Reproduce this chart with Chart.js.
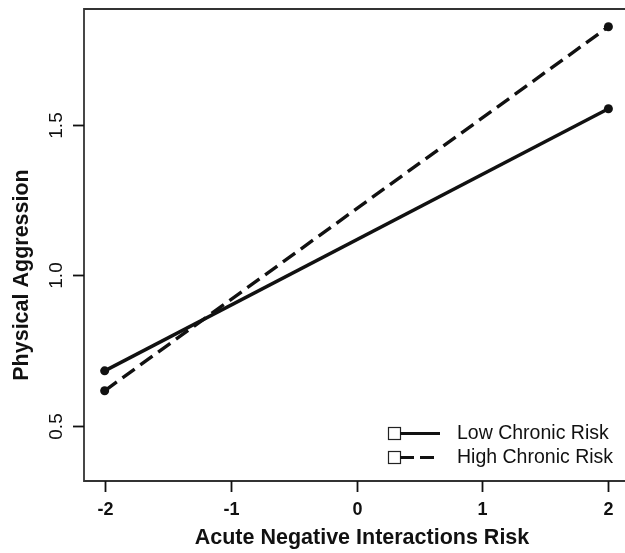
<!DOCTYPE html>
<html>
<head>
<meta charset="utf-8">
<script src="https://cdn.jsdelivr.net/npm/chart.js@4.4.0/dist/chart.umd.min.js"></script>
<style>
  html, body { margin: 0; padding: 0; background: #fff; overflow: hidden; }
  canvas { display: block; }
</style>
</head>
<body>
<canvas id="c" width="625" height="553"></canvas>
<script>
// ===== 数据 =====
const xValues   = [-2, 2];
const lowRisk   = [0.683, 1.553];
const highRisk  = [0.617, 1.825];
const xTicks    = [-2, -1, 0, 1, 2];
const yTicks    = [0.5, 1.0, 1.5];
const yTickText = ['0.5', '1.0', '1.5'];
const seriesNames = ['Low Chronic Risk', 'High Chronic Risk'];

const INK = '#111';
const FONT = '"Liberation Sans", Arial, sans-serif';

// 边框、刻度、坐标轴标题、图例（R 风格）
const rFramePlugin = {
  id: 'rFrame',
  afterDraw(chart) {
    const { ctx, chartArea, scales } = chart;
    const { left, top, bottom } = chartArea;
    const x = scales.x, y = scales.y;
    ctx.save();

    // 框线（右侧被裁掉）
    ctx.strokeStyle = '#333';
    ctx.lineWidth = 1.8;
    ctx.beginPath();
    ctx.moveTo(chart.width + 2, top);
    ctx.lineTo(left, top);
    ctx.lineTo(left, bottom);
    ctx.lineTo(chart.width + 2, bottom);
    ctx.stroke();

    // x 刻度
    ctx.strokeStyle = INK;
    ctx.lineWidth = 1.8;
    ctx.fillStyle = INK;
    ctx.font = 'bold 18px ' + FONT;
    ctx.textAlign = 'center';
    ctx.textBaseline = 'middle';
    xTicks.forEach(v => {
      const px = Math.round(x.getPixelForValue(v)) + 0.5;
      ctx.beginPath();
      ctx.moveTo(px, bottom);
      ctx.lineTo(px, bottom + 11);
      ctx.stroke();
      ctx.fillText(String(v), px, bottom + 29);
    });

    // y 刻度（文字旋转 90°）
    ctx.font = '19px ' + FONT;
    yTicks.forEach((v, i) => {
      const py = Math.round(y.getPixelForValue(v)) + 0.5;
      ctx.beginPath();
      ctx.moveTo(left, py);
      ctx.lineTo(left - 11, py);
      ctx.stroke();
      ctx.save();
      ctx.translate(left - 27, py);
      ctx.rotate(-Math.PI / 2);
      ctx.fillText(yTickText[i], 0, 0);
      ctx.restore();
    });

    // 坐标轴标题
    ctx.font = 'bold 21.5px ' + FONT;
    ctx.fillText('Acute Negative Interactions Risk', 362, 538);
    ctx.save();
    ctx.translate(22, 275);
    ctx.rotate(-Math.PI / 2);
    ctx.fillText('Physical Aggression', 0, 0);
    ctx.restore();

    // 图例
    const rows = [
      { name: seriesNames[0], dash: [], y: 433 },
      { name: seriesNames[1], dash: [14, 6], y: 457 },
    ];
    ctx.font = '19.5px ' + FONT;
    ctx.textAlign = 'left';
    rows.forEach(r => {
      ctx.lineWidth = 1.2;
      ctx.setLineDash([]);
      ctx.strokeStyle = '#222';
      ctx.strokeRect(388.5, r.y - 5.5, 12, 12);
      ctx.lineWidth = 3.2;
      ctx.strokeStyle = INK;
      ctx.setLineDash(r.dash);
      ctx.beginPath();
      ctx.moveTo(400, r.y + 0.5);
      ctx.lineTo(440, r.y + 0.5);
      ctx.stroke();
      ctx.setLineDash([]);
      ctx.fillStyle = '#111';
      ctx.fillText(r.name, 457, r.y + 1);
    });
    ctx.restore();
  },
};

new Chart(document.getElementById('c'), {
  type: 'scatter',
  plugins: [rFramePlugin],
  data: {
    datasets: [
      {
        label: seriesNames[0],
        data: xValues.map((v, i) => ({ x: v, y: lowRisk[i] })),
        showLine: true,
        borderColor: INK, backgroundColor: INK,
        borderWidth: 3.4, pointRadius: 4.5, pointBorderWidth: 0,
      },
      {
        label: seriesNames[1],
        data: xValues.map((v, i) => ({ x: v, y: highRisk[i] })),
        showLine: true,
        borderColor: INK, backgroundColor: INK,
        borderWidth: 3.4, borderDash: [15, 7], pointRadius: 4.5, pointBorderWidth: 0,
      },
    ],
  },
  options: {
    responsive: false,
    animation: false,
    layout: { padding: { left: 84, top: 9, right: 0, bottom: 72 } },
    plugins: { legend: { display: false }, tooltip: { enabled: false } },
    scales: {
      x: { type: 'linear', min: -2.164, max: 2.096, display: false },
      y: { type: 'linear', min: 0.3175, max: 1.884, display: false },
    },
  },
});
</script>
</body>
</html>
